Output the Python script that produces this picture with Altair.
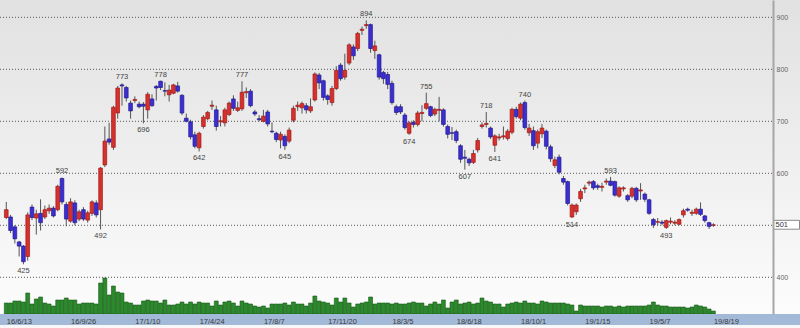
import altair as alt
import numpy as np
import pandas as pd

# Weekly candles, 2016-06-13 .. 2019-08-19 (one row per trading week)
opens = [
    515, 516, 497, 468, 460, 440, 535, 514, 523, 516, 528, 533, 530, 590, 540, 508, 543, 512, 530, 510,
    523, 543, 530, 616, 666, 650, 716, 770, 765, 735, 740, 733, 733, 722, 743, 767, 777, 759, 751, 754,
    768, 750, 706, 699, 674, 649, 690, 705, 729, 722, 699, 697, 713, 743, 721, 724, 755, 758, 718, 705,
    700, 718, 681, 677, 664, 671, 662, 702, 728, 726, 730, 720, 741, 789, 778, 749, 736, 763, 808, 785,
    812, 843, 840, 875, 884, 886, 836, 828, 794, 790, 773, 728, 728, 712, 677, 698, 694, 715, 725, 728,
    714, 721, 722, 690, 678, 680, 653, 631, 627, 621, 645, 690, 694, 687, 654, 668, 670, 667, 679, 723,
    706, 736, 678, 682, 658, 676, 681, 651, 615, 631, 590, 584, 516, 526, 551, 570, 581, 584, 576, 573,
    583, 585, 584, 556, 570, 557, 556, 571, 566, 560, 549, 511, 506, 506, 496, 506, 504, 502, 520, 531,
    523, 523, 531, 518, 505, 500,
]
closes = [
    530, 490, 474, 460, 430, 520, 515, 522, 505, 530, 533, 518, 575, 545, 512, 545, 505, 526, 512, 524,
    545, 520, 610, 662, 660, 727, 764, 768, 745, 720, 742, 728, 729, 752, 730, 764, 765, 758, 760, 770,
    758, 716, 700, 670, 652, 677, 708, 717, 731, 690, 701, 722, 735, 725, 726, 756, 757, 730, 714, 703,
    710, 695, 680, 665, 675, 653, 683, 725, 731, 734, 722, 728, 791, 774, 746, 742, 763, 798, 782, 798,
    847, 826, 869, 877, 886, 840, 845, 785, 782, 771, 736, 717, 718, 688, 697, 694, 716, 717, 734, 711,
    723, 723, 694, 675, 677, 663, 627, 629, 620, 638, 663, 693, 696, 670, 672, 670, 672, 681, 723, 709,
    733, 688, 687, 653, 680, 687, 652, 628, 626, 602, 583, 542, 539, 539, 565, 572, 583, 572, 573, 575,
    585, 577, 558, 572, 572, 549, 571, 549, 568, 550, 523, 501, 507, 504, 509, 508, 506, 511, 528, 529,
    525, 531, 521, 509, 498, 501,
]
highs = [
    545, 520, 500, 470, 462, 525, 540, 530, 550, 538, 540, 537, 578, 592, 545, 552, 548, 530, 535, 528,
    548, 548, 612, 690, 697, 730, 768, 773, 768, 740, 748, 738, 737, 756, 752, 770, 778, 775, 770, 772,
    776, 752, 715, 703, 680, 680, 712, 720, 740, 730, 710, 726, 738, 750, 738, 777, 765, 762, 722, 712,
    722, 722, 698, 680, 680, 675, 688, 730, 738, 738, 735, 744, 794, 793, 780, 752, 768, 806, 812, 830,
    850, 848, 872, 882, 894, 888, 855, 830, 797, 795, 778, 732, 733, 716, 700, 702, 720, 731, 755, 730,
    726, 747, 725, 694, 689, 684, 656, 645, 630, 645, 668, 698, 718, 690, 675, 676, 690, 685, 726, 728,
    736, 740, 695, 690, 684, 695, 684, 655, 632, 636, 595, 586, 542, 542, 570, 578, 586, 587, 580, 582,
    590, 593, 586, 575, 575, 560, 574, 574, 581, 563, 551, 514, 514, 510, 511, 515, 510, 513, 532, 534,
    530, 534, 544, 520, 507, 504,
]
lows = [
    512, 485, 465, 440, 425, 432, 510, 482, 490, 512, 522, 515, 527, 540, 498, 505, 500, 508, 508, 505,
    518, 515, 492, 612, 655, 645, 705, 730, 738, 705, 735, 725, 696, 705, 728, 740, 760, 748, 738, 752,
    755, 712, 698, 665, 648, 642, 686, 702, 722, 682, 690, 690, 710, 720, 718, 720, 745, 727, 710, 700,
    698, 690, 677, 660, 648, 645, 658, 698, 720, 715, 715, 716, 738, 762, 740, 732, 730, 760, 778, 780,
    808, 818, 835, 866, 878, 832, 820, 780, 772, 762, 732, 712, 714, 684, 674, 688, 690, 700, 722, 708,
    710, 700, 690, 667, 664, 658, 620, 607, 614, 618, 640, 686, 688, 666, 641, 663, 665, 663, 675, 705,
    702, 684, 672, 645, 648, 668, 646, 622, 610, 598, 578, 538, 514, 520, 545, 562, 576, 568, 568, 565,
    578, 575, 555, 553, 565, 545, 552, 545, 549, 545, 520, 495, 500, 500, 493, 502, 500, 500, 515, 526,
    518, 520, 518, 505, 493, 497,
]
# weekly volume, thousand shares
volumes = [
    110, 110, 130, 130, 120, 210, 100, 150, 170, 110, 100, 80, 140, 140, 160, 140, 140, 100, 110, 110,
    110, 100, 310, 360, 190, 280, 220, 210, 120, 110, 90, 90, 130, 140, 130, 130, 110, 140, 90, 90,
    100, 120, 100, 120, 100, 120, 110, 110, 80, 130, 90, 120, 130, 110, 80, 130, 110, 100, 80, 70,
    80, 60, 100, 100, 100, 110, 90, 120, 100, 100, 80, 110, 180, 130, 120, 110, 90, 160, 120, 160,
    110, 70, 100, 110, 120, 170, 100, 110, 110, 110, 100, 110, 100, 100, 110, 120, 110, 110, 80, 100,
    120, 100, 140, 60, 120, 140, 100, 110, 120, 100, 110, 160, 130, 120, 100, 100, 70, 100, 110, 120,
    110, 130, 110, 110, 100, 130, 120, 110, 110, 110, 110, 100, 90, 30, 90, 80, 80, 80, 80, 70,
    80, 80, 70, 80, 70, 80, 80, 80, 80, 80, 90, 120, 90, 80, 80, 70, 70, 70, 70, 60,
    70, 90, 80, 70, 50, 30,
]

date_labels = ["16/6/13", "16/9/26", "17/1/10", "17/4/24", "17/8/7", "17/11/20",
               "18/3/5", "18/6/18", "18/10/1", "19/1/15", "19/5/7", "19/8/19"]
label_step = 15
price_labels = [400, 600, 700, 800, 900]
grid_levels = [400, 500, 600, 700, 800, 900]

# weeks whose high / low is annotated
peak_weeks = [13, 27, 36, 55, 84, 98, 112, 121, 141]
trough_weeks = [4, 22, 32, 45, 65, 94, 107, 114, 132, 154]

UP_FILL, DOWN_FILL = "#d8302c", "#3b2ed2"
UP_EDGE, DOWN_EDGE = "#9c1b18", "#221a8c"
FONT = "Liberation Sans"

n = len(opens)
df = pd.DataFrame({
    "week": np.arange(n),
    "open": opens, "high": highs, "low": lows, "close": closes,
    "volume": volumes,
})
df["dir"] = np.where(df["close"] >= df["open"], "up", "down")

W, H = 773, 314
x_scale = alt.Scale(domain=[-0.2994, 177.74], nice=False, zero=False)
p_scale = alt.Scale(domain=[329.4, 933.3], nice=False, zero=False)

label_expr = "[" + ",".join(f"'{d}'" for d in date_labels) + f"][round(datum.value/{label_step})]"
x_axis = alt.Axis(values=[k * label_step for k in range(len(date_labels))], labelExpr=label_expr,
                  orient="bottom", labelAlign="left", labelBaseline="top", labelPadding=3,
                  labelFontSize=7.5, labelFont=FONT, labelColor="#3a3a3a",
                  labelFlush=False, labelOverlap=False, labelBound=False,
                  domain=False, ticks=False, grid=False, title=None, zindex=1)
y_axis = alt.Axis(values=price_labels, orient="right", labelFontSize=7, labelFont=FONT,
                  labelColor="#666", labelPadding=3, ticks=False, grid=False,
                  domain=True, domainColor="#a6a6a6", domainWidth=2, title=None, zindex=1)

X = alt.X("week:Q", scale=x_scale, axis=x_axis)

one = pd.DataFrame({"k": [0]})

background = alt.Chart(one).mark_rect(
    color=alt.Gradient(gradient="linear",
                       stops=[alt.GradientStop(color="#e1e1e1", offset=0),
                              alt.GradientStop(color="#fcfcfc", offset=1)],
                       x1=0, x2=0, y1=0, y2=1)
).encode(x=alt.value(0), x2=alt.value(800), y=alt.value(0), y2=alt.value(H))

grid = alt.Chart(pd.DataFrame({"p": grid_levels})).mark_rule(
    color="#555", strokeDash=[1, 2], strokeWidth=1
).encode(x=alt.value(0), x2=alt.value(W), y=alt.Y("p:Q", scale=p_scale, axis=None))

volume = alt.Chart(df).mark_bar(size=3.9, color="#2b8a2b", stroke="#175717", strokeWidth=0.6).encode(
    x=X, y=alt.Y("volume:Q", scale=alt.Scale(domain=[0, 3140], nice=False), axis=None)
)

wicks = alt.Chart(df).mark_rule(color="#555", strokeWidth=1).encode(
    x=X, y=alt.Y("low:Q", scale=p_scale, axis=y_axis), y2="high:Q"
)

bodies = alt.Chart(df).mark_bar(size=3.7, strokeWidth=0.7).encode(
    x=X,
    y=alt.Y("open:Q", scale=p_scale, axis=None), y2="close:Q",
    fill=alt.Fill("dir:N", scale=alt.Scale(domain=["up", "down"], range=[UP_FILL, DOWN_FILL]), legend=None),
    stroke=alt.Stroke("dir:N", scale=alt.Scale(domain=["up", "down"], range=[UP_EDGE, DOWN_EDGE]), legend=None),
)

peaks = pd.DataFrame({"week": peak_weeks, "v": [highs[k] for k in peak_weeks]})
peaks["txt"] = peaks["v"].astype(str)
troughs = pd.DataFrame({"week": trough_weeks, "v": [lows[k] for k in trough_weeks]})
troughs["txt"] = troughs["v"].astype(str)

peak_text = alt.Chart(peaks).mark_text(baseline="bottom", dy=-2, fontSize=7.5, font=FONT, color="#444").encode(
    x=X, y=alt.Y("v:Q", scale=p_scale, axis=None), text="txt:N"
)
trough_text = alt.Chart(troughs).mark_text(baseline="top", dy=3, fontSize=7.5, font=FONT, color="#444").encode(
    x=X, y=alt.Y("v:Q", scale=p_scale, axis=None), text="txt:N"
)

last_price = closes[-1]
last_df = pd.DataFrame({"p": [last_price], "top": [last_price + 8.5], "bot": [last_price - 8.5],
                        "txt": [str(last_price)]})
last_box = alt.Chart(last_df).mark_rect(fill="white", stroke="#8a8a8a", strokeWidth=1).encode(
    x=alt.value(773.5), x2=alt.value(799.5),
    y=alt.Y("top:Q", scale=p_scale, axis=None), y2="bot:Q"
)
last_text = alt.Chart(last_df).mark_text(align="left", baseline="middle", fontSize=7.5, font=FONT, color="#333").encode(
    x=alt.value(775.5), y=alt.Y("p:Q", scale=p_scale, axis=None), text="txt:N"
)

strip = alt.Chart(one).mark_rect(color="#a2b9d8").encode(
    x=alt.value(0), x2=alt.value(800), y=alt.value(H), y2=alt.value(325)
)

chart = alt.layer(
    background, grid, volume, wicks, bodies, peak_text, trough_text, last_box, last_text, strip
).resolve_scale(y="independent").properties(
    width=W, height=H,
    autosize=alt.AutoSizeParams(type="none"),
    padding={"left": 0, "top": 0, "right": 27, "bottom": 14},
).configure_view(stroke=None).configure(background="#f7f7f7")

chart.save("out.html", embed_options={"renderer": "svg", "actions": False})
